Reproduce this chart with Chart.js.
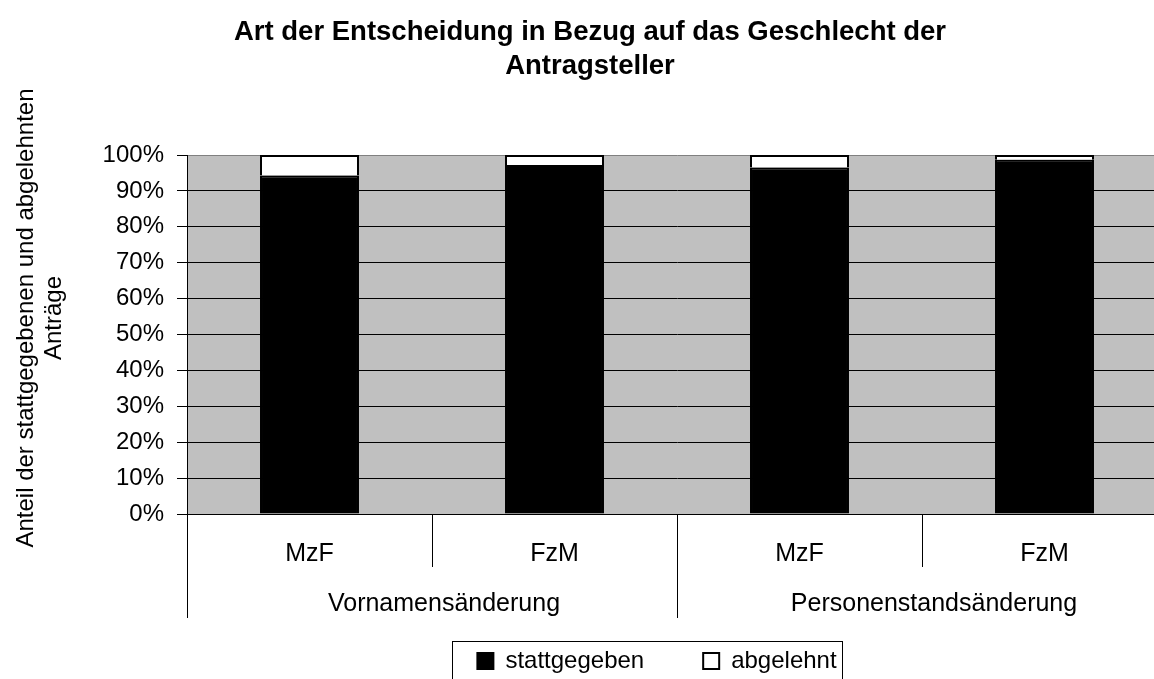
<!DOCTYPE html>
<html>
<head>
<meta charset="utf-8">
<script src="https://cdn.jsdelivr.net/npm/chart.js@4.4.1/dist/chart.umd.min.js"></script>
<style>
  html, body { margin: 0; padding: 0; background: #fff; overflow: hidden; }
</style>
</head>
<body>
<canvas id="myBarChart" width="1180" height="683"></canvas>
<script>
const categories = ["MzF", "FzM", "MzF", "FzM"];
const groups = ["Vornamensänderung", "Personenstandsänderung"];
const stattgegeben = [94.3, 97.2, 96.5, 98.7];
const abgelehnt = [5.7, 2.8, 3.5, 1.3];
const yTitle = ["Anteil der stattgegebenen und abgelehnten", "Anträge"];
const chartTitle = ["Art der Entscheidung in Bezug auf das Geschlecht der", "Antragsteller"];

const FONT = "'Liberation Sans', Arial, sans-serif";
Chart.defaults.font.family = FONT;
Chart.defaults.color = "#000";

// extra bits Chart.js has no option for: grey plot area, grouped x axis, legend frame
const decor = {
  id: "decor",
  afterLayout(chart) {
    // legend sits a bit right of the title centre in the original
    chart.legend.left += 67;
    chart.legend.right += 67;
  },
  beforeDraw(chart) {
    const a = chart.chartArea;
    const ctx = chart.ctx;
    ctx.save();
    ctx.fillStyle = "#c0c0c0";
    ctx.fillRect(a.left, a.top, a.right - a.left, a.bottom - a.top);
    ctx.restore();
  },
  afterDraw(chart) {
    const ctx = chart.ctx;
    const a = chart.chartArea;
    const xs = chart.scales.x;
    ctx.save();
    ctx.strokeStyle = "#000";
    ctx.lineWidth = 1;

    // separators between categories and groups
    for (let i = 0; i <= categories.length; i++) {
      let px;
      if (i === 0) px = a.left;
      else if (i === categories.length) px = a.right;
      else px = (xs.getPixelForValue(i - 1) + xs.getPixelForValue(i)) / 2;
      px = Math.round(px) + 0.5;
      const len = i % 2 === 0 ? 104 : 53;
      ctx.beginPath();
      ctx.moveTo(px, a.bottom);
      ctx.lineTo(px, a.bottom + len);
      ctx.stroke();
    }

    // group labels
    ctx.fillStyle = "#000";
    ctx.font = "25px " + FONT;
    ctx.textAlign = "center";
    ctx.textBaseline = "middle";
    groups.forEach((g, j) => {
      const cx = (xs.getPixelForValue(2 * j) + xs.getPixelForValue(2 * j + 1)) / 2;
      ctx.fillText(g, cx + 12, a.bottom + 90);
    });

    // y axis title
    ctx.save();
    ctx.font = "24px " + FONT;
    ctx.translate(0, 318);
    ctx.rotate(-Math.PI / 2);
    ctx.fillText(yTitle[0], 0, 26);
    ctx.fillText(yTitle[1], 0, 54);
    ctx.restore();

    // frame round the legend
    const hb = chart.legend.legendHitBoxes;
    const last = hb[hb.length - 1];
    const fx = Math.round(hb[0].left - 25) + 0.5;
    const fy = Math.round(hb[0].top - 8) + 0.5;
    const fw = Math.round(last.left + last.width + 6 - fx);
    ctx.strokeRect(fx, fy, fw, 60);
    ctx.restore();
  }
};

const ctx = document.getElementById("myBarChart").getContext("2d");
const chart = new Chart(ctx, {
  type: "bar",
  data: {
    labels: categories,
    datasets: [
      {
        label: "stattgegeben",
        data: stattgegeben,
        backgroundColor: "#000",
        borderColor: "#000",
        borderWidth: 2
      },
      {
        label: "abgelehnt",
        data: abgelehnt,
        backgroundColor: "#fff",
        borderColor: "#000",
        borderWidth: 2
      }
    ]
  },
  options: {
    responsive: false,
    animation: false,
    layout: { padding: { left: 13, right: 13, top: 0, bottom: 0 } },
    datasets: {
      bar: { barPercentage: 0.404, categoryPercentage: 1 }
    },
    scales: {
      x: {
        stacked: true,
        grid: { display: false, drawTicks: false },
        border: { display: true, color: "#000", width: 1 },
        ticks: { font: { size: 25 }, color: "#000", padding: 25 },
        afterFit(scale) { scale.height = 76; }
      },
      y: {
        stacked: true,
        min: 0,
        max: 100,
        ticks: {
          stepSize: 10,
          font: { size: 24 },
          color: "#000",
          padding: 13,
          callback: (v) => v + "%"
        },
        grid: {
          color: (c) => (c.tick && c.tick.value === 100 ? "#808080" : "#000"),
          tickColor: "#000",
          tickLength: 10,
          lineWidth: 1
        },
        border: { display: true, color: "#000", width: 1 },
        afterFit(scale) { scale.width = 174; }
      }
    },
    plugins: {
      title: {
        display: true,
        text: chartTitle,
        color: "#000",
        font: { size: 27.5, weight: "bold", lineHeight: "34px" },
        padding: { top: 15, bottom: 72 }
      },
      legend: {
        position: "bottom",
        labels: {
          boxWidth: 16,
          boxHeight: 16,
          padding: 59,
          color: "#000",
          font: { size: 24 }
        }
      },
      tooltip: { enabled: false }
    }
  },
  plugins: [decor]
});
</script>
</body>
</html>
